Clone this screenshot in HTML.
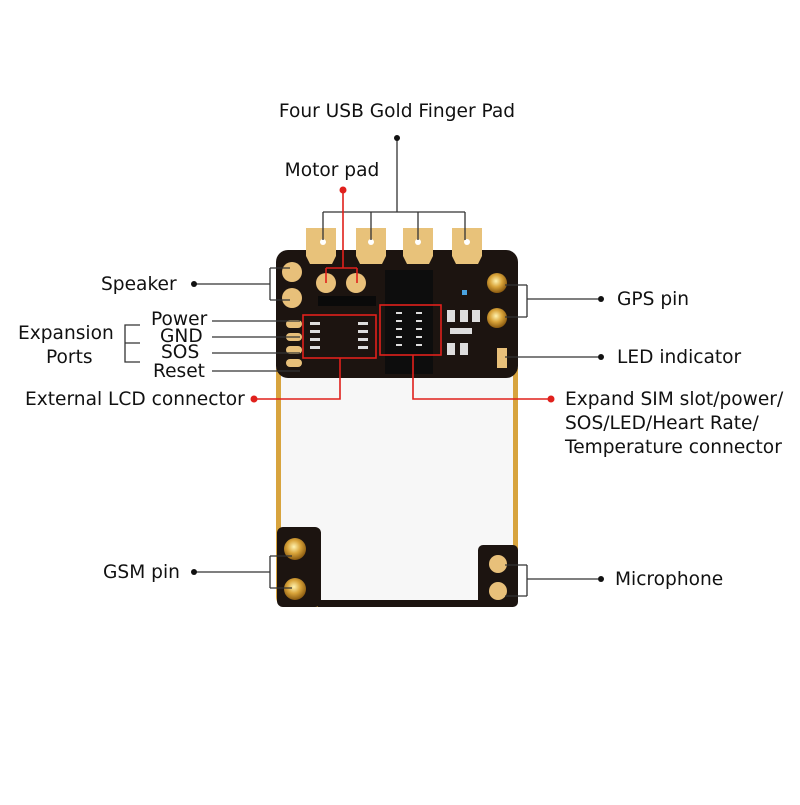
<!DOCTYPE html>
<html><head><meta charset="utf-8"><style>
html,body{margin:0;padding:0;background:#fff}
svg text{font-family:"DejaVu Sans","Liberation Sans",sans-serif;font-size:18.6px;fill:#111}
</style></head><body>
<svg width="800" height="800" viewBox="0 0 800 800" xmlns="http://www.w3.org/2000/svg">
<defs>
<radialGradient id="sma" cx="0.45" cy="0.4" r="0.6"><stop offset="0" stop-color="#fff3b0"/><stop offset="0.5" stop-color="#d9a43a"/><stop offset="1" stop-color="#8a5a10"/></radialGradient>
</defs>
<rect x="276" y="360" width="242" height="247" rx="10" fill="#d8a43e"/>
<rect x="281" y="375" width="232" height="228" fill="#f7f7f7"/>
<rect x="276" y="250" width="242" height="128" rx="12" fill="#1c1410"/>
<g fill="#e8c27a">
<path d="M306 228h30v28l-4 8h-22l-4-8z"/>
<path d="M356 228h30v28l-4 8h-22l-4-8z"/>
<path d="M403 228h30v28l-4 8h-22l-4-8z"/>
<path d="M452 228h30v28l-4 8h-22l-4-8z"/>
</g>
<g fill="#fff"><circle cx="323" cy="242" r="3"/><circle cx="371" cy="242" r="3"/><circle cx="418" cy="242" r="3"/><circle cx="467" cy="242" r="3"/></g>
<g fill="#e8c07a"><circle cx="292" cy="272" r="10"/><circle cx="292" cy="298" r="10"/><circle cx="326" cy="283" r="10"/><circle cx="356" cy="283" r="10"/></g>
<g fill="#e8c07a"><rect x="286" y="320" width="16" height="8" rx="4"/><rect x="286" y="333" width="16" height="8" rx="4"/><rect x="286" y="346" width="16" height="8" rx="4"/><rect x="286" y="359" width="16" height="8" rx="4"/></g>
<rect x="318" y="296" width="58" height="10" fill="#0a0a0a"/>
<rect x="385" y="270" width="48" height="104" fill="#0d0d0d"/>
<g fill="#ddd"><rect x="310" y="322" width="10" height="3"/><rect x="310" y="330" width="10" height="3"/><rect x="310" y="338" width="10" height="3"/><rect x="310" y="346" width="10" height="3"/><rect x="358" y="322" width="10" height="3"/><rect x="358" y="330" width="10" height="3"/><rect x="358" y="338" width="10" height="3"/><rect x="358" y="346" width="10" height="3"/>
<rect x="396" y="312" width="6" height="2"/><rect x="396" y="320" width="6" height="2"/><rect x="396" y="328" width="6" height="2"/><rect x="396" y="336" width="6" height="2"/><rect x="396" y="344" width="6" height="2"/>
<rect x="416" y="312" width="6" height="2"/><rect x="416" y="320" width="6" height="2"/><rect x="416" y="328" width="6" height="2"/><rect x="416" y="336" width="6" height="2"/><rect x="416" y="344" width="6" height="2"/>
<rect x="447" y="310" width="8" height="12"/><rect x="460" y="310" width="8" height="12"/><rect x="472" y="310" width="8" height="12"/><rect x="450" y="328" width="22" height="6"/><rect x="447" y="343" width="8" height="12"/><rect x="460" y="343" width="8" height="12"/></g>
<rect x="497" y="348" width="10" height="20" fill="#e8c07a"/>
<rect x="462" y="290" width="5" height="5" fill="#4aa3e0"/>
<circle cx="497" cy="283" r="10" fill="url(#sma)"/><circle cx="497" cy="318" r="10" fill="url(#sma)"/>
<rect x="277" y="527" width="44" height="80" rx="6" fill="#1c1410"/>
<rect x="318" y="600" width="165" height="7" fill="#1c1410"/>
<rect x="478" y="545" width="40" height="62" rx="5" fill="#1c1410"/>
<circle cx="295" cy="549" r="11" fill="url(#sma)"/><circle cx="295" cy="589" r="11" fill="url(#sma)"/>
<circle cx="498" cy="564" r="9" fill="#e8c07a"/><circle cx="498" cy="591" r="9" fill="#e8c07a"/>
<g stroke="#333" stroke-width="1.3" fill="none">
<path d="M397 138V212M323 212H465M323 212V240M371 212V240M418 212V240M465 212V240"/>
<path d="M194 284H270M270 268H290M270 300H290M270 268V300"/>
<path d="M212 321H300M212 337H300M212 353H300M212 371H300"/>
<path d="M140 325H125V362H140M125 343H140"/>
<path d="M598 299H527M527 285H505M527 317H505M527 285V317"/>
<path d="M598 357H505"/>
<path d="M194 572H270M270 556H292M270 588H292M270 556V588"/>
<path d="M598 579H527M527 565H505M527 596H505M527 565V596"/>
</g>
<g fill="#111"><circle cx="397" cy="138" r="3"/><circle cx="194" cy="284" r="3"/><circle cx="601" cy="299" r="3"/><circle cx="601" cy="357" r="3"/><circle cx="194" cy="572" r="3"/><circle cx="601" cy="579" r="3"/></g>
<g stroke="#e0201c" stroke-width="1.6" fill="none">
<path d="M343 190V268M326 268H357M326 268V283M357 268V283"/>
<rect x="303" y="315" width="73" height="43"/>
<rect x="380" y="305" width="61" height="50"/>
<path d="M254 399H340V358"/>
<path d="M413 355V399H551"/>
</g>
<g fill="#e0201c"><circle cx="343" cy="190" r="3.5"/><circle cx="254" cy="399" r="3.5"/><circle cx="551" cy="399" r="3.5"/></g>
<text x="397" y="117" text-anchor="middle">Four USB Gold Finger Pad</text>
<text x="332" y="176" text-anchor="middle">Motor pad</text>
<text x="101" y="290">Speaker</text>
<text x="151" y="325" font-size="15.5">Power</text>
<text x="160" y="342" font-size="15.5">GND</text>
<text x="161" y="358" font-size="15.5">SOS</text>
<text x="153" y="377" font-size="15.5">Reset</text>
<text x="18" y="339">Expansion</text>
<text x="46" y="363">Ports</text>
<text x="25" y="405">External LCD connector</text>
<text x="565" y="405">Expand SIM slot/power/</text>
<text x="565" y="429">SOS/LED/Heart Rate/</text>
<text x="565" y="453">Temperature connector</text>
<text x="617" y="305">GPS pin</text>
<text x="617" y="363">LED indicator</text>
<text x="103" y="578">GSM pin</text>
<text x="615" y="585">Microphone</text>
</svg>
</body></html>
